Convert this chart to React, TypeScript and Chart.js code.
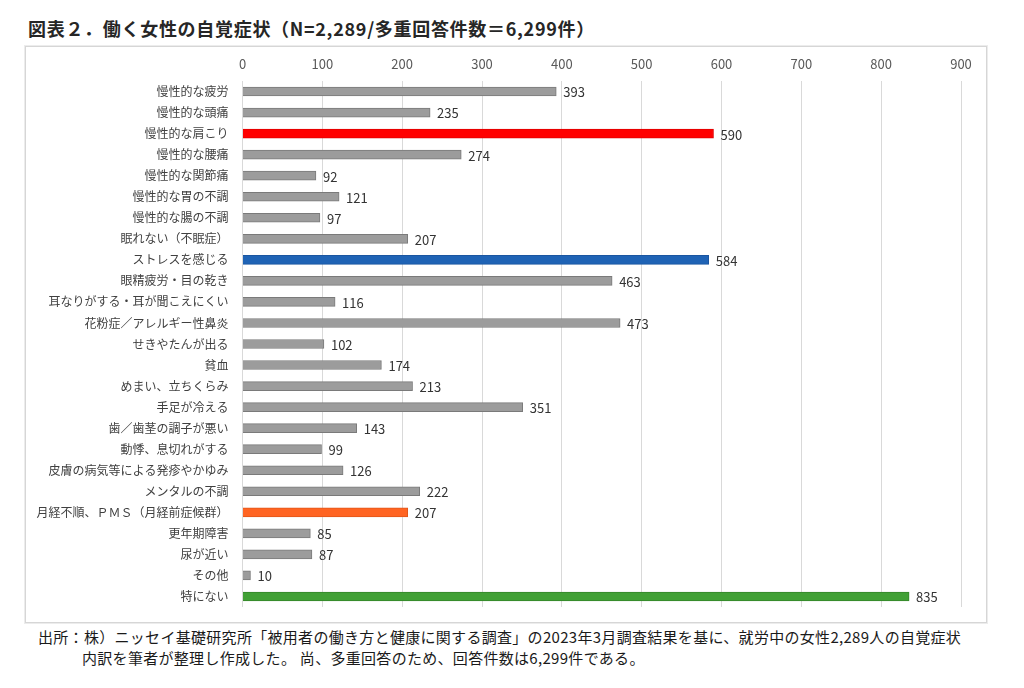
import React, { useEffect, useRef } from "react";
import { Chart, registerables } from "chart.js";

Chart.register(...registerables);

const categories = [
  "慢性的な疲労",
  "慢性的な頭痛",
  "慢性的な肩こり",
  "慢性的な腰痛",
  "慢性的な関節痛",
  "慢性的な胃の不調",
  "慢性的な腸の不調",
  "眠れない（不眠症）",
  "ストレスを感じる",
  "眼精疲労・目の乾き",
  "耳なりがする・耳が聞こえにくい",
  "花粉症／アレルギー性鼻炎",
  "せきやたんが出る",
  "貧血",
  "めまい、立ちくらみ",
  "手足が冷える",
  "歯／歯茎の調子が悪い",
  "動悸、息切れがする",
  "皮膚の病気等による発疹やかゆみ",
  "メンタルの不調",
  "月経不順、ＰＭＳ（月経前症候群）",
  "更年期障害",
  "尿が近い",
  "その他",
  "特にない",
];

const counts = [
  393, 235, 590, 274, 92, 121, 97, 207, 584, 463, 116, 473, 102, 174, 213, 351,
  143, 99, 126, 222, 207, 85, 87, 10, 835,
];

const xTicks = [0, 100, 200, 300, 400, 500, 600, 700, 800, 900];

const titleText = "図表２．働く女性の自覚症状（N=2,289/多重回答件数＝6,299件）";
const sourceLine1 =
  "出所：株）ニッセイ基礎研究所「被用者の働き方と健康に関する調査」の2023年3月調査結果を基に、就労中の女性2,289人の自覚症状";
const sourceLine2 = "内訳を筆者が整理し作成した。 尚、多重回答のため、回答件数は6,299件である。";

// highlight colours by category
const highlight: Record<string, [string, string]> = {
  "慢性的な肩こり": ["#ff0000", "#e00000"],
  "ストレスを感じる": ["#1f63b5", "#1a55a0"],
  "月経不順、ＰＭＳ（月経前症候群）": ["#ff6422", "#e0561a"],
  "特にない": ["#41a035", "#34862a"],
};

const FONT = '"Noto Sans CJK JP", "Noto Sans", sans-serif';

const valueLabels = {
  id: "valueLabels",
  afterDatasetsDraw(chart: any) {
    const ctx = chart.ctx;
    const meta = chart.getDatasetMeta(0);
    ctx.save();
    ctx.font = `13px ${FONT}`;
    ctx.fillStyle = "#333333";
    ctx.textAlign = "left";
    ctx.textBaseline = "middle";
    meta.data.forEach((bar: any, i: number) => {
      ctx.fillText(String(chart.data.datasets[0].data[i]), bar.x + 7, bar.y + 1);
    });
    ctx.restore();
  },
};

export default function App() {
  const ref = useRef<HTMLCanvasElement | null>(null);

  useEffect(() => {
    if (!ref.current) return;
    const bg = categories.map((c) => (highlight[c] ? highlight[c][0] : "#9c9c9c"));
    const bd = categories.map((c) => (highlight[c] ? highlight[c][1] : "#7a7a7a"));
    const chart = new Chart(ref.current, {
      type: "bar",
      data: {
        labels: categories,
        datasets: [
          {
            data: counts,
            backgroundColor: bg,
            borderColor: bd,
            borderWidth: 1,
            barThickness: 9,
          },
        ],
      },
      options: {
        indexAxis: "y",
        animation: false,
        responsive: false,
        maintainAspectRatio: false,
        layout: { padding: { left: 0, top: 0, right: 24, bottom: 14 } },
        plugins: {
          legend: { display: false },
          tooltip: { enabled: false },
        },
        scales: {
          x: {
            position: "top",
            min: 0,
            max: 900,
            afterBuildTicks: (scale: any) => {
              scale.ticks = xTicks.map((v) => ({ value: v }));
            },
            afterFit: (scale: any) => {
              scale.height = 33;
              scale.paddingLeft = 0;
              scale.paddingRight = 0;
            },
            grid: { color: "#d9d9d9", lineWidth: 1, drawTicks: false },
            border: { display: false },
            ticks: {
              padding: 9,
              color: "#595959",
              font: { family: FONT, size: 13 },
            },
          },
          y: {
            afterFit: (scale: any) => {
              scale.width = 215.5;
              scale.paddingTop = 0;
              scale.paddingBottom = 0;
            },
            grid: { display: false, drawTicks: false },
            border: { display: false },
            ticks: {
              padding: 14,
              color: "#404040",
              autoSkip: false,
              font: { family: FONT, size: 12 },
            },
          },
        },
      },
      plugins: [valueLabels],
    });
    return () => chart.destroy();
  }, []);

  return (
    <div
      style={{
        position: "absolute",
        left: 0,
        top: 0,
        width: 1024,
        height: 688,
        background: "#ffffff",
        fontFamily: FONT,
        overflow: "hidden",
      }}
    >
      <div
        style={{
          position: "absolute",
          left: 28,
          top: 15,
          fontSize: 18,
          fontWeight: 700,
          letterSpacing: 0.7,
          color: "#262626",
          whiteSpace: "nowrap",
          lineHeight: "26px",
        }}
      >
        {titleText}
      </div>
      <div
        style={{
          position: "absolute",
          left: 25,
          top: 46,
          width: 960,
          height: 575,
          border: "1px solid #d6d6d6",
          boxShadow: "0 0 0 1px #ececec",
        }}
      />
      <canvas
        ref={ref}
        width={958}
        height={573}
        style={{ position: "absolute", left: 27, top: 48, width: 958, height: 573 }}
      />
      <div
        style={{
          position: "absolute",
          left: 38,
          top: 626,
          fontSize: 15,
          letterSpacing: 0.3,
          color: "#1a1a1a",
          whiteSpace: "nowrap",
          lineHeight: "21px",
        }}
      >
        <div>{sourceLine1}</div>
        <div style={{ paddingLeft: 44 }}>{sourceLine2}</div>
      </div>
    </div>
  );
}
